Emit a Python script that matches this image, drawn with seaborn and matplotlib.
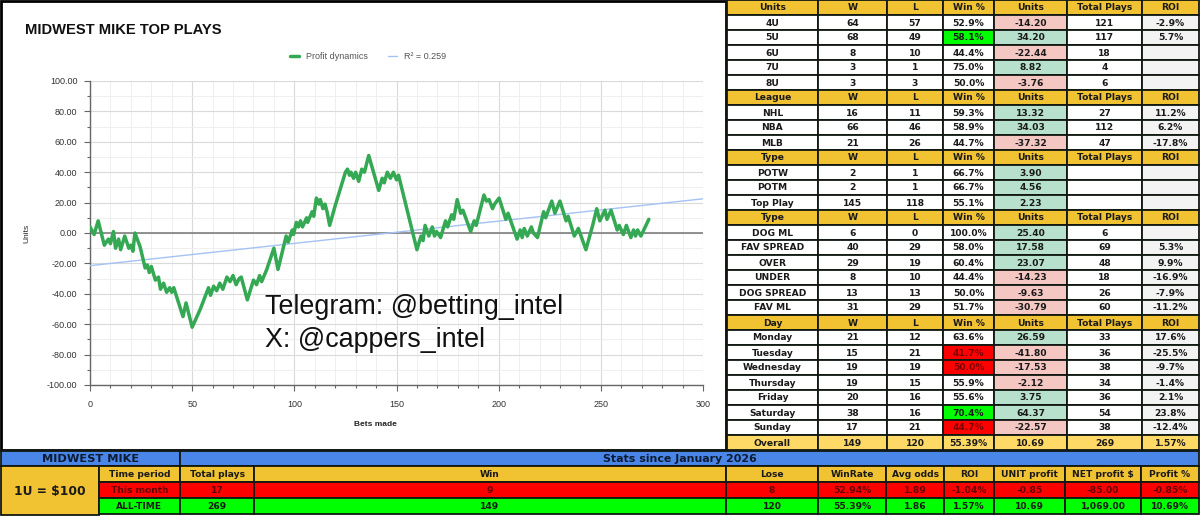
import matplotlib
matplotlib.use("Agg")
import matplotlib.pyplot as plt
from matplotlib.patches import Rectangle
from matplotlib.ticker import MultipleLocator, FormatStrFormatter
import seaborn as sns

# profit curve: bet number and running units at the turning points
bets = [0, 2, 4, 7, 9, 10, 11.5, 12.5, 14, 15, 17, 19, 20, 21, 22, 24.5, 27, 28, 29, 30,
        32, 33.5, 34.5, 36, 37.5, 39, 40, 41, 45.5, 47, 50, 54, 58, 59, 60.5, 62, 63.5, 65,
        67, 68.5, 70, 71.5, 73, 74, 77, 80, 81.5, 83, 84, 86.5, 90, 92, 96, 97, 99, 99.6,
        101, 102, 103, 104, 106, 106.5, 108.7, 109.5, 110.8, 112, 112.7, 114, 115, 116,
        117.3, 120, 125, 126, 127, 127.7, 129, 130, 131.5, 133, 134.3, 136.4, 141.3, 143,
        144, 145.5, 147, 148.5, 150, 151, 160, 162, 163, 164, 165.8, 167.5, 168.6, 169.6,
        171.6, 174, 175, 177, 178, 179.7, 181.4, 182.5, 186.3, 188, 189, 192.8, 194, 195.3,
        197, 198, 200.2, 203.5, 204.6, 209, 210.5, 211.5, 212.5, 214, 216, 217, 219, 222,
        223, 226, 227.5, 230, 233, 234, 237, 239, 242.7, 246, 248, 249.5, 252, 253, 255,
        258, 259, 261, 262.5, 264.7, 266, 267, 268, 269.6, 271, 273.5]
units = [4, -1, 8, -8, -4, -7, 1, -10, -4, -11, -2, -10, -8, -12, 0, -9, -23, -21, -26, -22,
         -31, -29, -37, -33, -39, -36, -39, -36, -55, -46, -62, -50, -36, -41, -35, -38, -33, -37,
         -29, -32, -28, -34, -30, -29, -44, -31, -34, -28, -32, -24, -10, -24, -2, -6, 2, -1,
         7, 4, 8, 4, 10, 7, 14, 11, 23, 19, 22, 16, 19, 14,
         5, 18, 40, 42, 38, 40, 36, 40, 34, 42, 40, 51, 28, 36,
         33, 40, 36, 40, 35, 38, -11, -2, -5, 5, -2, 4, -2, 1,
         -3, 8, 4, 12, 9, 22, 13, 15, 1, 8, 5, 25, 21, 22,
         16, 19, 23, 9, 13, -4, 2, -3, 3, -2, 4, 0, -3, 14,
         10, 21, 13, 21, 8, 11, -2, 3, -11, 5, 16, 8, 15, 9, 15,
         2, 5, -1, 5, -3, 2, -2, 2, -2, 2, 9]

# linear trend as drawn (value at bet 0 and bet 300)
trend_bets = [0, 300]
trend_units = [-21.5, 22.5]
r2 = 0.259

# right hand table
col_heads = ["W", "L", "Win %", "Units", "Total Plays", "ROI"]

unit_names = ["4U", "5U", "6U", "7U", "8U"]
unit_w = [64, 68, 8, 3, 3]
unit_l = [57, 49, 10, 1, 3]
unit_pct = ["52.9%", "58.1%", "44.4%", "75.0%", "50.0%"]
unit_units = [-14.20, 34.20, -22.44, 8.82, -3.76]
unit_total = ["121", "117", "18", "4", "6"]
unit_roi = ["-2.9%", "5.7%", "", "", ""]

league_names = ["NHL", "NBA", "MLB"]
league_w = [16, 66, 21]
league_l = [11, 46, 26]
league_pct = ["59.3%", "58.9%", "44.7%"]
league_units = [13.32, 34.03, -37.32]
league_total = ["27", "112", "47"]
league_roi = ["11.2%", "6.2%", "-17.8%"]

play_names = ["POTW", "POTM", "Top Play"]
play_w = [2, 2, 145]
play_l = [1, 1, 118]
play_pct = ["66.7%", "66.7%", "55.1%"]
play_units = [3.90, 4.56, 2.23]
play_total = ["", "", ""]
play_roi = ["", "", ""]

bet_names = ["DOG ML", "FAV SPREAD", "OVER", "UNDER", "DOG SPREAD", "FAV ML"]
bet_w = [6, 40, 29, 8, 13, 31]
bet_l = [0, 29, 19, 10, 13, 29]
bet_pct = ["100.0%", "58.0%", "60.4%", "44.4%", "50.0%", "51.7%"]
bet_units = [25.40, 17.58, 23.07, -14.23, -9.63, -30.79]
bet_total = ["6", "69", "48", "18", "26", "60"]
bet_roi = ["", "5.3%", "9.9%", "-16.9%", "-7.9%", "-11.2%"]

day_names = ["Monday", "Tuesday", "Wednesday", "Thursday", "Friday", "Saturday", "Sunday"]
day_w = [21, 15, 19, 19, 20, 38, 17]
day_l = [12, 21, 19, 15, 16, 16, 21]
day_pct = ["63.6%", "41.7%", "50.0%", "55.9%", "55.6%", "70.4%", "44.7%"]
day_units = [26.59, -41.80, -17.53, -2.12, 3.75, 64.37, -22.57]
day_total = ["33", "36", "38", "34", "36", "54", "38"]
day_roi = ["17.6%", "-25.5%", "-9.7%", "-1.4%", "2.1%", "23.8%", "-12.4%"]

overall = ["Overall", "149", "120", "55.39%", "10.69", "269", "1.57%"]

good_pct = ["5U", "Saturday"]
bad_pct = ["Tuesday", "Wednesday", "Sunday"]

# bottom summary table
bt_heads = ["Time period", "Total plays", "Win", "Lose", "WinRate", "Avg odds", "ROI",
            "UNIT profit", "NET profit $", "Profit %"]
month_row = ["This month", "17", "9", "8", "52.94%", "1.89", "-1.04%", "-0.85", "-85.00", "-0.85%"]
alltime_row = ["ALL-TIME", "269", "149", "120", "55.39%", "1.86", "1.57%", "10.69", "1,069.00", "10.69%"]

YELLOW = "#F1C232"
PALE = "#FFD966"
GREEN_U = "#B7E1CD"
RED_U = "#F4C7C3"
GREY = "#F3F3F3"
EDGE = "#111811"
TXT = "#1a1a1a"
tfont = ["DejaVu Sans"]

sns.set_theme(style="white")
plt.rcParams['font.family'] = ['Liberation Sans', 'DejaVu Sans']

fig = plt.figure(figsize=(12, 5.16), dpi=100, facecolor="white")
bg = fig.add_axes([0, 0, 1, 1])
bg.set_xlim(0, 1200)
bg.set_ylim(516, 0)
bg.axis("off")


def cell(x0, x1, y0, y1, text="", fc="white", tc=TXT, size=6.6):
    bg.add_patch(Rectangle((x0, y0), x1 - x0, y1 - y0, facecolor=fc, edgecolor=EDGE, lw=1.3))
    if text != "":
        bg.text((x0 + x1) / 2, (y0 + y1) / 2 + 0.5, text, ha="center", va="center",
                fontsize=size, color=tc, fontweight="bold", family=tfont)


# chart panel
bg.add_patch(Rectangle((1, 1), 725, 449, facecolor="white", edgecolor="black", lw=2))

# right table
cx = [727, 818, 887, 943, 994, 1067, 1142, 1199]
sections = [
    ("Units", unit_names, unit_w, unit_l, unit_pct, unit_units, unit_total, unit_roi),
    ("League", league_names, league_w, league_l, league_pct, league_units, league_total, league_roi),
    ("Type", play_names, play_w, play_l, play_pct, play_units, play_total, play_roi),
    ("Type", bet_names, bet_w, bet_l, bet_pct, bet_units, bet_total, bet_roi),
    ("Day", day_names, day_w, day_l, day_pct, day_units, day_total, day_roi),
]
rh = 15
row = 0
for head, names, w, l, pct, uu, tot, roi in sections:
    y0 = row * rh
    for j, h in enumerate([head] + col_heads):
        cell(cx[j], cx[j + 1], y0, y0 + rh, h, YELLOW)
    row += 1
    for i, name in enumerate(names):
        y0 = row * rh
        pfill, ptc = "white", TXT
        if name in good_pct:
            pfill = "#00FF00"
        if name in bad_pct:
            pfill, ptc = "#FF0000", "#7a0000"
        ufill = GREEN_U if uu[i] >= 0 else RED_U
        vals = [name, str(w[i]), str(l[i]), pct[i], f"{uu[i]:.2f}", tot[i], roi[i]]
        fills = ["white", "white", "white", pfill, ufill, "white", GREY]
        for j in range(7):
            cell(cx[j], cx[j + 1], y0, y0 + rh, vals[j], fills[j], ptc if j == 3 else TXT)
        row += 1
y0 = row * rh
for j in range(7):
    cell(cx[j], cx[j + 1], y0, y0 + rh, overall[j], PALE)

# bottom table
bx = [99, 180, 254, 726, 818, 886, 944, 994, 1065, 1141, 1199]
cell(1, 180, 451, 466, "MIDWEST MIKE", "#4A86E8", "#0c1b33", 8.2)
bg.add_patch(Rectangle((180, 451), 1019, 15, facecolor="#4A86E8", edgecolor=EDGE, lw=1.3))
bg.text(680, 459, "Stats since January 2026", ha="center", va="center", fontsize=7.9,
        color="#0c1b33", fontweight="bold", family=tfont)
cell(1, 99, 466, 515, "1U = $100", YELLOW, TXT, 8.8)
for j in range(10):
    cell(bx[j], bx[j + 1], 466, 482, bt_heads[j], YELLOW)
    cell(bx[j], bx[j + 1], 482, 498, month_row[j], "#FF0000", "#660000")
    cell(bx[j], bx[j + 1], 498, 514, alltime_row[j], "#00FF00")

# line chart
ax = fig.add_axes([90 / 1200, 1 - 385 / 516, 613 / 1200, 304 / 516])
ax.set_facecolor("white")
sns.lineplot(x=bets, y=units, ax=ax, color="#34a853", lw=2.5, label="Profit dynamics", zorder=4)
sns.lineplot(x=trend_bets, y=trend_units, ax=ax, color="#a4c2f4", lw=1.0, label=f"R\u00b2 = {r2}", zorder=3)
ax.axhline(0, color="#808080", lw=1.2, zorder=2)

ax.set_xlim(0, 300)
ax.set_ylim(-100, 100)
ax.xaxis.set_major_locator(MultipleLocator(50))
ax.xaxis.set_minor_locator(MultipleLocator(10))
ax.yaxis.set_major_locator(MultipleLocator(20))
ax.yaxis.set_minor_locator(MultipleLocator(10))
ax.yaxis.set_major_formatter(FormatStrFormatter("%.2f"))
ax.grid(which="major", color="#dadada", lw=0.8)
ax.grid(which="minor", color="#ededed", lw=0.6)
ax.set_axisbelow(True)
for s in ["top", "right"]:
    ax.spines[s].set_visible(False)
for s in ["left", "bottom"]:
    ax.spines[s].set_color("#666666")
    ax.spines[s].set_linewidth(1.0)
ax.tick_params(which="major", direction="out", length=4, width=0.8, color="#666666",
               labelsize=6.5, labelcolor="#333333", left=True, bottom=True)
ax.tick_params(axis="y", which="major", pad=5)
ax.tick_params(axis="x", which="major", pad=7)
ax.tick_params(which="minor", direction="out", length=2.5, width=0.8, color="#666666",
               left=True, bottom=True)
ax.set_xlabel("")
ax.set_ylabel("")
ax.legend(loc="center", bbox_to_anchor=(0.454, 1.079), ncol=2, frameon=False, fontsize=6.5,
          handlelength=1.0, handletextpad=0.8, columnspacing=2.2, labelcolor="#555555")

fig.text(25 / 1200, 1 - 30 / 516, "MIDWEST MIKE TOP PLAYS", fontsize=10.6, fontweight="bold",
         va="center", ha="left", color="#111111")
fig.text(27 / 1200, 1 - 233 / 516, "Units", rotation=90, fontsize=6, ha="center", va="center",
         color="#222222")
fig.text(375 / 1200, 1 - 424 / 516, "Bets made", fontsize=6, fontweight="bold", ha="center",
         va="center", color="#222222")
fig.text(265 / 1200, 1 - 307 / 516, "Telegram: @betting_intel", fontsize=19.4, ha="left",
         va="center", color="#111111")
fig.text(265 / 1200, 1 - 340 / 516, "X: @cappers_intel", fontsize=19.4, ha="left",
         va="center", color="#111111")

fig.savefig("out.png", dpi=100, facecolor="white")
